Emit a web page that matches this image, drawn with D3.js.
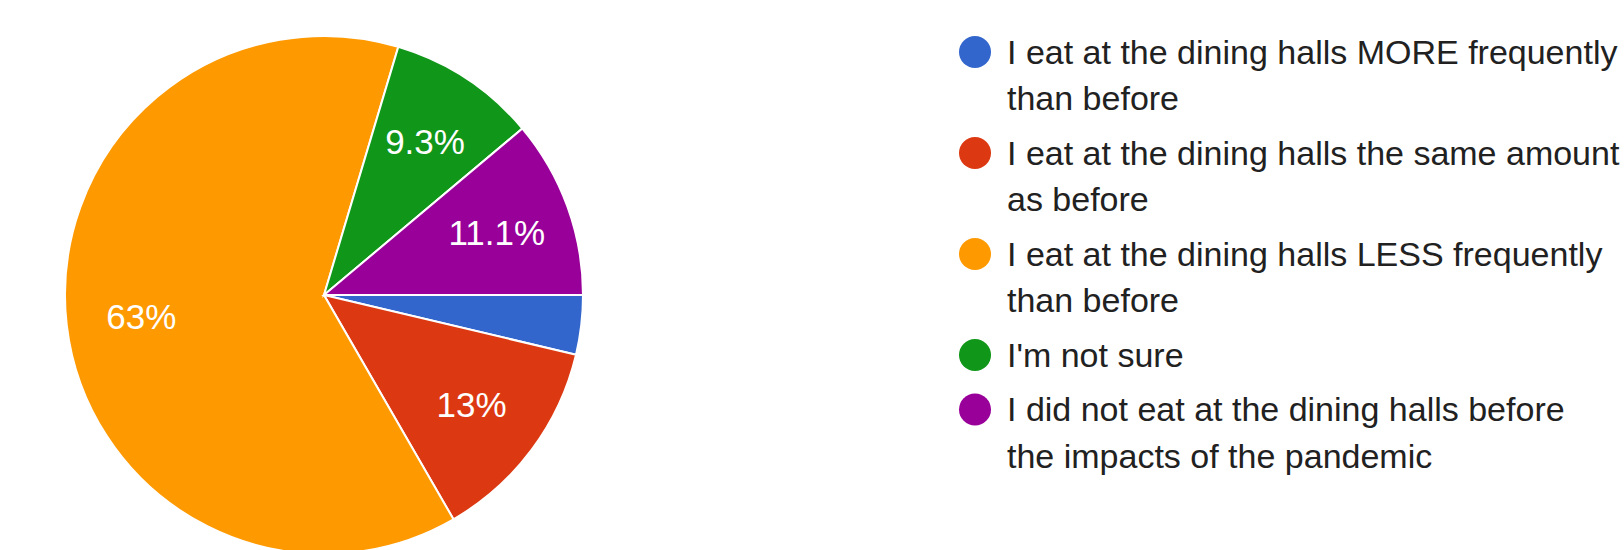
<!DOCTYPE html>
<html>
<head>
<meta charset="utf-8">
<script src="https://cdn.jsdelivr.net/npm/d3@7"></script>
<style>
  html, body { margin: 0; padding: 0; background: #fff; }
  svg { display: block; }
</style>
</head>
<body>
<svg id="chart" width="1624" height="550"></svg>
<script>
// Responses (54 total)
var categories = [
  "I eat at the dining halls MORE frequently than before",
  "I eat at the dining halls the same amount as before",
  "I eat at the dining halls LESS frequently than before",
  "I'm not sure",
  "I did not eat at the dining halls before the impacts of the pandemic"
];
var legendLines = [
  ["I eat at the dining halls MORE frequently", "than before"],
  ["I eat at the dining halls the same amount", "as before"],
  ["I eat at the dining halls LESS frequently", "than before"],
  ["I'm not sure"],
  ["I did not eat at the dining halls before", "the impacts of the pandemic"]
];
var counts = [2, 7, 34, 5, 6];
var pctLabels = ["3.7%", "13%", "63%", "9.3%", "11.1%"];
var colors = ["#3366cc", "#dc3912", "#ff9900", "#109618", "#990099"];

var svg = d3.select("#chart");
var font = "'Liberation Sans', Arial, sans-serif";

var cx = 324, cy = 295, radius = 259;

var pie = d3.pie()
  .sort(null)
  .value(function (d) { return d; })
  .startAngle(Math.PI / 2)
  .endAngle(Math.PI / 2 + 2 * Math.PI);

var arc = d3.arc().innerRadius(0).outerRadius(radius);
var labelArc = d3.arc().innerRadius(radius * 0.71).outerRadius(radius * 0.71);

var g = svg.append("g").attr("transform", "translate(" + cx + "," + cy + ")");

var slices = g.selectAll("g.slice")
  .data(pie(counts))
  .enter().append("g")
  .attr("class", "slice");

slices.append("path")
  .attr("d", arc)
  .style("fill", function (d, i) { return colors[i]; })
  .style("stroke", "#fff")
  .style("stroke-width", "2px");

// small slices get no label
slices.filter(function (d) { return d.endAngle - d.startAngle > 0.3; })
  .append("text")
  .attr("transform", function (d) { return "translate(" + labelArc.centroid(d) + ")"; })
  .attr("text-anchor", "middle")
  .attr("dy", "0.36em")
  .style("font-family", font)
  .style("font-size", "35px")
  .style("fill", "#fff")
  .text(function (d) { return pctLabels[d.index]; });

// Legend
var lineH = 46.5, itemGap = 8;
var legend = svg.append("g").attr("transform", "translate(975,52)");
var y = 0;
legendLines.forEach(function (lines, i) {
  var item = legend.append("g").attr("transform", "translate(0," + y + ")");
  item.append("circle")
    .attr("r", 16)
    .style("fill", colors[i]);
  var t = item.append("text")
    .style("font-family", font)
    .style("font-size", "34px")
    .style("fill", "#212121");
  lines.forEach(function (s, j) {
    t.append("tspan")
      .attr("x", 32)
      .attr("y", j * lineH)
      .attr("dy", "0.35em")
      .text(s);
  });
  y += lines.length * lineH + itemGap;
});
</script>
</body>
</html>
